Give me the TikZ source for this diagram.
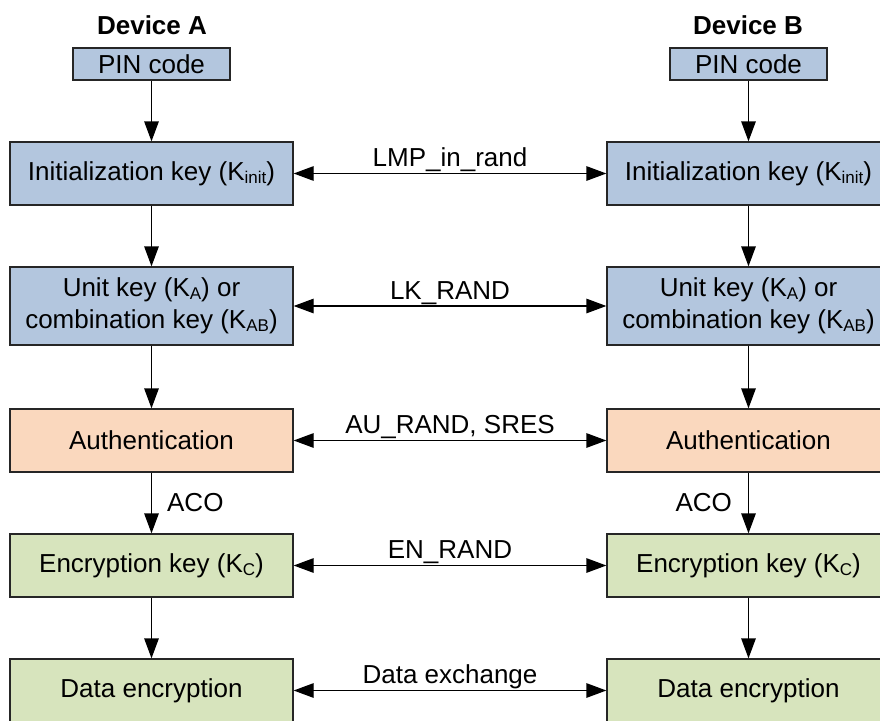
\documentclass[tikz,border=0pt]{standalone}
\usepackage{fontspec}
\setmainfont{Liberation Sans}
\usetikzlibrary{arrows.meta}
\definecolor{boxblue}{HTML}{B3C6DE}
\definecolor{boxorange}{HTML}{FAD8BE}
\definecolor{boxgreen}{HTML}{D7E4BD}
\newcommand{\lowsub}[1]{\raisebox{-3pt}{\fontsize{17}{17}\selectfont #1}}
\begin{document}
\begin{tikzpicture}[x=1pt, y=-1pt,
  font=\fontsize{26}{32}\selectfont,
  box/.style={draw=black!85, line width=1.3pt, inner sep=0pt, minimum width=283pt, minimum height=63pt, align=center},
  bluebox/.style={box, fill=boxblue},
  orangebox/.style={box, fill=boxorange},
  greenbox/.style={box, fill=boxgreen},
  flow/.style={line width=1.3pt, -{Triangle[length=20pt,width=14.5pt]}},
  link/.style={line width=1.3pt, {Triangle[length=20pt,width=14.5pt]}-{Triangle[length=20pt,width=14.5pt]}},
  lbl/.style={anchor=base, yshift=7pt, inner sep=0pt},
  head/.style={font=\bfseries\fontsize{26}{32}\selectfont}]
\useasboundingbox (0,0) rectangle (880,720);
\clip (0,0) rectangle (880,720);
\fill[white] (0,0) rectangle (880,720);

% Device A
\node[head] (devA) at (152,25) {Device A};
\node[bluebox, minimum width=157pt, minimum height=32pt] (pinA) at (151.5,64) {PIN code};
\node[bluebox] (initA) at (151.5,173.5) {Initialization key (K\lowsub{init})};
\node[bluebox, minimum height=78pt] (unitA) at (151.5,306) {Unit key (K\lowsub{A}) or\\combination key (K\lowsub{AB})};
\node[orangebox] (authA) at (151.5,440.5) {Authentication};
\node[greenbox] (encA) at (151.5,565.5) {Encryption key (K\lowsub{C})};
\node[greenbox] (dataA) at (151.5,690.5) {Data encryption};

% Device B
\node[head] (devB) at (748,25) {Device B};
\node[bluebox, minimum width=157pt, minimum height=32pt] (pinB) at (748.5,64) {PIN code};
\node[bluebox] (initB) at (748.5,173.5) {Initialization key (K\lowsub{init})};
\node[bluebox, minimum height=78pt] (unitB) at (748.5,306) {Unit key (K\lowsub{A}) or\\combination key (K\lowsub{AB})};
\node[orangebox] (authB) at (748.5,440.5) {Authentication};
\node[greenbox] (encB) at (748.5,565.5) {Encryption key (K\lowsub{C})};
\node[greenbox] (dataB) at (748.5,690.5) {Data encryption};

% vertical flows
\draw[flow] (pinA) -- (initA);
\draw[flow] (initA) -- (unitA);
\draw[flow] (unitA) -- (authA);
\draw[flow] (authA) -- node[anchor=west, xshift=15pt, inner sep=0pt] {ACO} (encA);
\draw[flow] (encA) -- (dataA);

\draw[flow] (pinB) -- (initB);
\draw[flow] (initB) -- (unitB);
\draw[flow] (unitB) -- (authB);
\draw[flow] (authB) -- node[anchor=east, xshift=-16pt, inner sep=0pt] {ACO} (encB);
\draw[flow] (encB) -- (dataB);

% horizontal exchanges
\draw[link] (initA) -- node[lbl] {LMP\_in\_rand} (initB);
\draw[link] (unitA) -- node[lbl] {LK\_RAND} (unitB);
\draw[link] (authA) -- node[lbl] {AU\_RAND, SRES} (authB);
\draw[link] (encA) -- node[lbl] {EN\_RAND} (encB);
\draw[link] (dataA) -- node[lbl] {Data exchange} (dataB);
\end{tikzpicture}
\end{document}
